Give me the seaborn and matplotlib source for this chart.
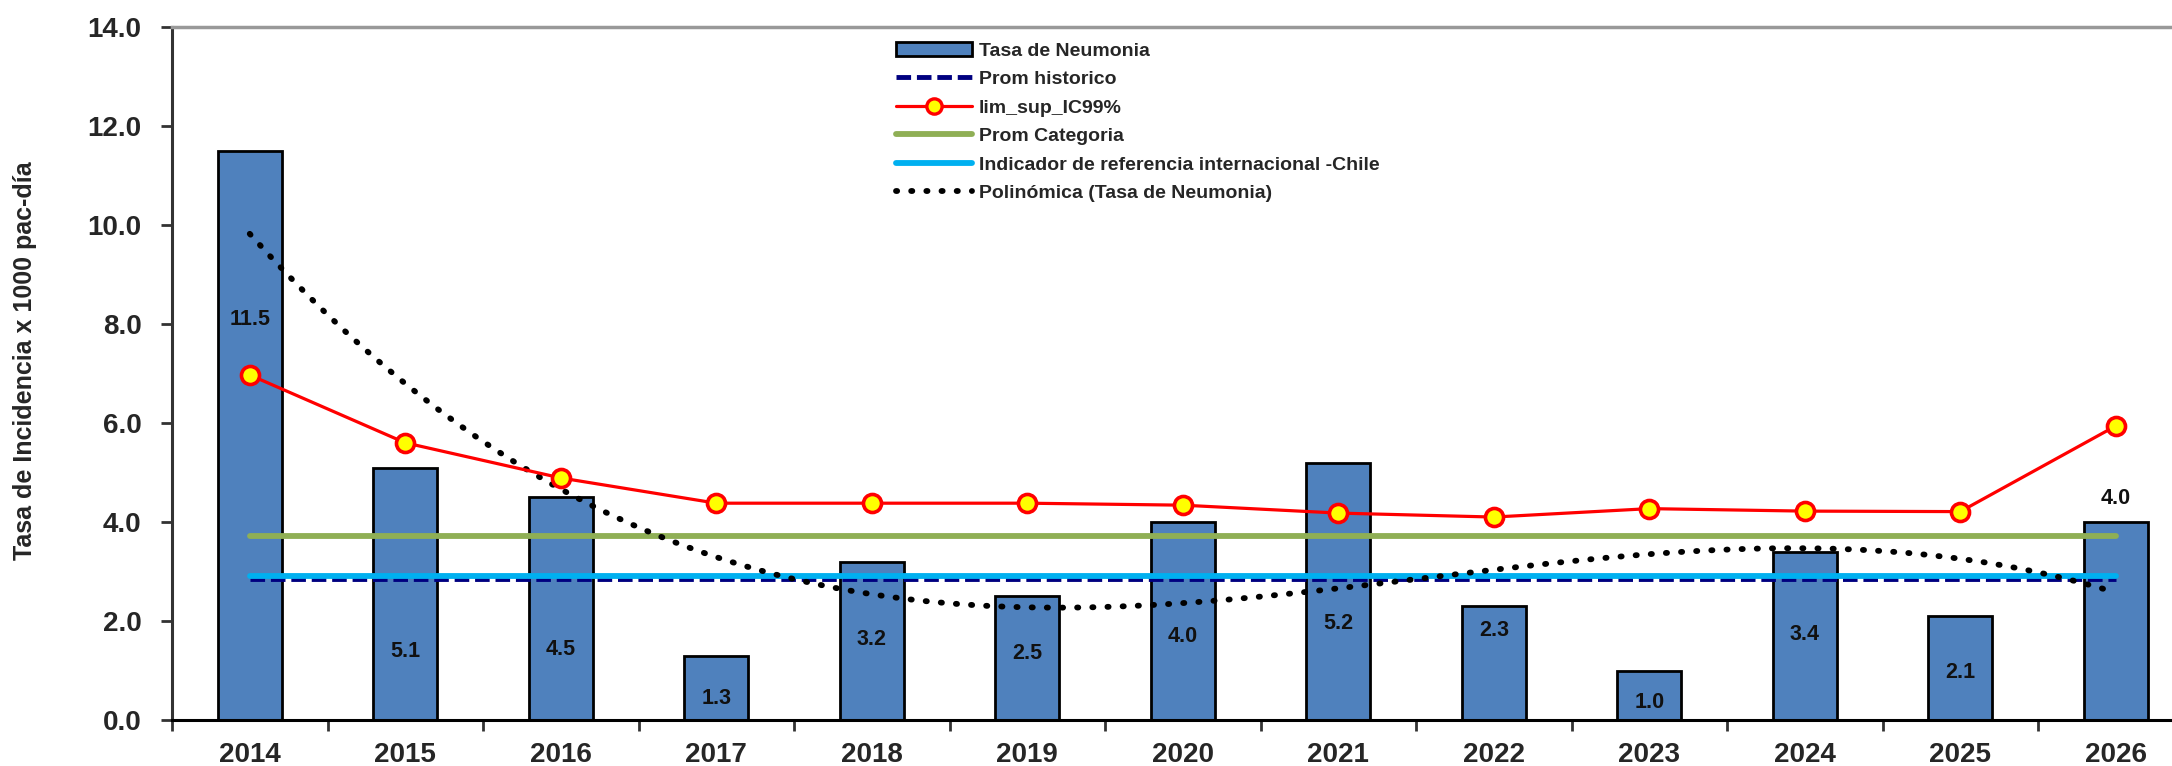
import numpy as np
import matplotlib
matplotlib.use("Agg")
import matplotlib.pyplot as plt
import seaborn as sns
from matplotlib.patches import Patch
from matplotlib.lines import Line2D

# data
years = ['2014', '2015', '2016', '2017', '2018', '2019', '2020',
         '2021', '2022', '2023', '2024', '2025', '2026']
tasa_neumonia = [11.5, 5.1, 4.5, 1.3, 3.2, 2.5, 4.0, 5.2, 2.3, 1.0, 3.4, 2.1, 4.0]
lim_sup_ic99 = [6.97, 5.60, 4.89, 4.38, 4.38, 4.38, 4.34, 4.18, 4.10, 4.27, 4.22, 4.21, 5.94]
prom_historico = 2.85
prom_categoria = 3.72
indicador_chile = 2.90
# height where each bar label sits (moved by hand in the original)
label_y = [8.1, 1.38, 1.43, 0.44, 1.63, 1.35, 1.68, 1.95, 1.8, 0.35, 1.72, 0.95, 4.48]

sns.set_style('white')
plt.rcParams['font.family'] = ['Liberation Sans', 'DejaVu Sans']
plt.rcParams['font.weight'] = 'bold'

W, H = 2172, 766
fig = plt.figure(figsize=(W / 100, H / 100), dpi=100)
# plot area is cut off on the right in the reference
ax = fig.add_axes([172 / W, (H - 720) / H, 2021.5 / W, 693 / H])

n = len(years)
x_pos = np.arange(n)

# bars
sns.barplot(x=years, y=tasa_neumonia, color='#4F81BD', saturation=1,
            edgecolor='black', linewidth=2, width=0.41, ax=ax, zorder=2)

# reference lines
sns.lineplot(x=x_pos, y=np.full(n, prom_historico), color='#000080',
             linewidth=3.5, linestyle=(0, (3, 1.2)), ax=ax, zorder=3)
sns.lineplot(x=x_pos, y=np.full(n, prom_categoria), color='#8FAF55',
             linewidth=4.2, ax=ax, zorder=3)
sns.lineplot(x=x_pos, y=np.full(n, indicador_chile), color='#00B0F0',
             linewidth=4.2, ax=ax, zorder=3)

# polynomial trend of the bars
sns.regplot(x=x_pos, y=np.array(tasa_neumonia), order=3, scatter=False, ci=None,
            truncate=True, ax=ax,
            line_kws=dict(color='black', linewidth=4.2, linestyle=(0, (0.2, 2.4)),
                          dash_capstyle='round', zorder=4))

# upper limit line
sns.lineplot(x=x_pos, y=lim_sup_ic99, color='#FF0000', linewidth=2.3,
             marker='o', markersize=13, markerfacecolor='#FFFF00',
             markeredgecolor='#FF0000', markeredgewidth=2.6, ax=ax, zorder=5)

# bar value labels
for i, (v, ly) in enumerate(zip(tasa_neumonia, label_y)):
    ax.text(i, ly, f'{v:.1f}', ha='center', va='center', fontsize=15.5,
            fontweight='bold', color='#111111', zorder=6)

ax.set_xlim(-0.5, n - 0.5)
ax.set_ylim(0, 14)
ax.set_yticks(np.arange(0, 14.1, 2))
ax.set_yticklabels([f'{t:.1f}' for t in np.arange(0, 14.1, 2)])

# ticks between categories, labels under the bars
ax.set_xticks(np.arange(n + 1) - 0.5)
ax.set_xticklabels([])
ax.set_xticks(x_pos, minor=True)
ax.set_xticklabels(years, minor=True)
ax.tick_params(axis='x', which='major', direction='out', length=8, width=2,
               color='#333333', bottom=True)
ax.tick_params(axis='x', which='minor', length=0, pad=16, labelsize=20)
ax.tick_params(axis='y', direction='out', length=8, width=2, color='#333333',
               left=True, pad=14, labelsize=20)
for lab in ax.get_xticklabels(minor=True) + ax.get_yticklabels():
    lab.set_fontweight('bold')

ax.set_xlabel('')
ax.set_ylabel('Tasa de Incidencia x 1000 pac-día', fontsize=18, fontweight='bold')
ax.yaxis.set_label_coords(-0.0668, 0.518)

ax.spines['left'].set_color('#333333')
ax.spines['left'].set_linewidth(2.2)
ax.spines['bottom'].set_color('black')
ax.spines['bottom'].set_linewidth(2.2)
ax.spines['top'].set_color('#999999')
ax.spines['top'].set_linewidth(2.5)
ax.spines['right'].set_visible(False)

handles = [
    Patch(facecolor='#4F81BD', edgecolor='black', linewidth=2),
    Line2D([], [], color='#000080', linewidth=3.5, linestyle=(0, (3, 1.2))),
    Line2D([], [], color='#FF0000', linewidth=2.3, marker='o', markersize=11,
           markerfacecolor='#FFFF00', markeredgecolor='#FF0000', markeredgewidth=2.4),
    Line2D([], [], color='#8FAF55', linewidth=4.2),
    Line2D([], [], color='#00B0F0', linewidth=4.2),
    Line2D([], [], color='black', linewidth=4.2, linestyle=(0, (0.2, 2.4)),
           dash_capstyle='round'),
]
labels = ['Tasa de Neumonia', 'Prom historico', 'lim_sup_IC99%', 'Prom Categoria',
          'Indicador de referencia internacional -Chile', 'Polinómica (Tasa de Neumonia)']
leg = fig.legend(handles, labels, loc='upper left',
                 bbox_to_anchor=(896 / W, 1 - 42 / H), frameon=False,
                 borderpad=0, borderaxespad=0, handlelength=3.9, handletextpad=0.35,
                 labelspacing=0.56, prop=dict(size=14, weight='bold'))

fig.savefig('out.png', dpi=100, facecolor='white')
